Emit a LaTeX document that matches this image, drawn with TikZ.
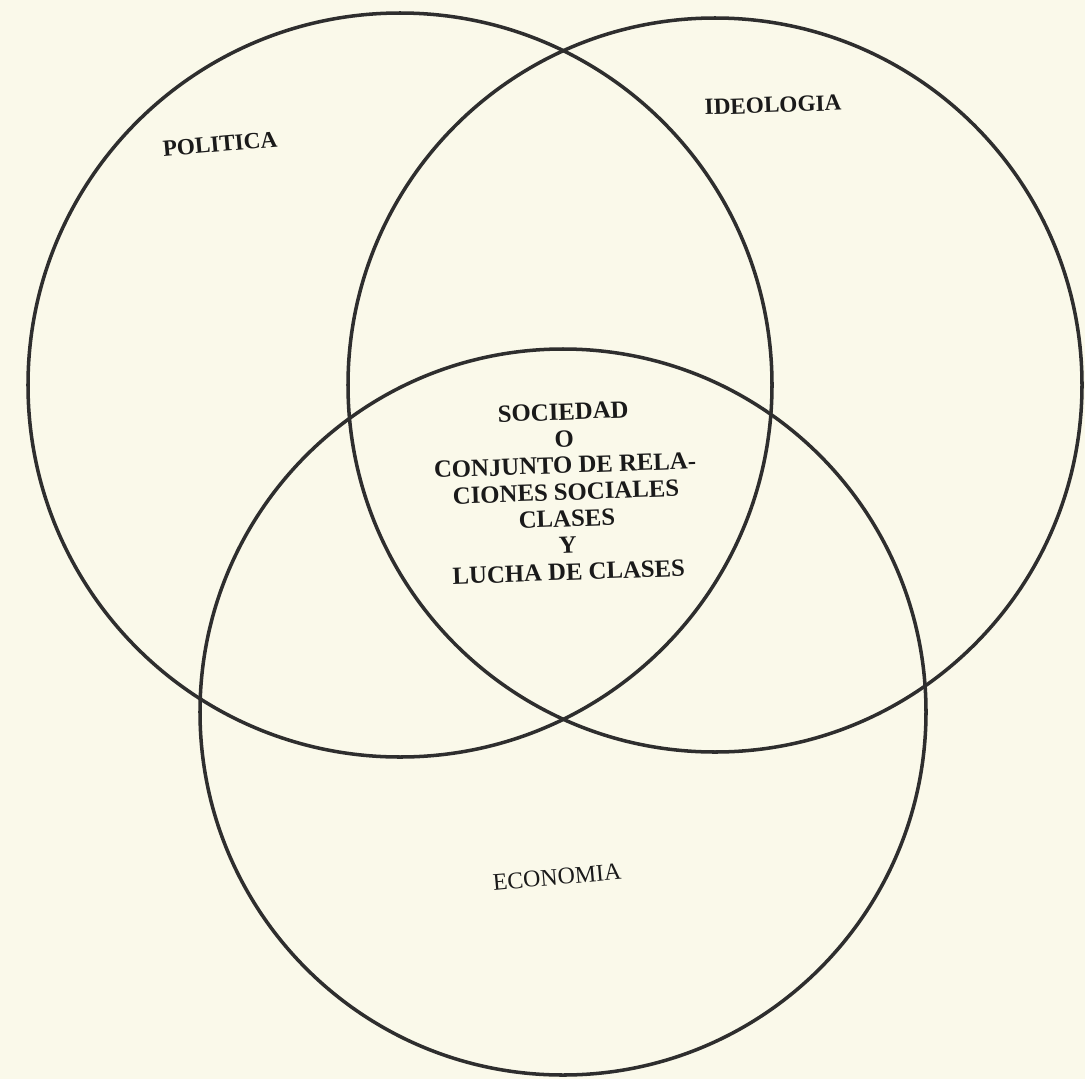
\documentclass[tikz,border=0pt]{standalone}
\usepackage{fontspec}
\setmainfont{Liberation Serif}
\usepackage{xcolor}
\usepackage{tikz}
\definecolor{paper}{HTML}{FAF9EA}
\definecolor{ink}{HTML}{2E2E2E}
\definecolor{type}{HTML}{1A1A1A}
\begin{document}
\begin{tikzpicture}[x=0.025cm, y=-0.025cm,
  ring/.style={draw=ink, line width=2.5pt},
  area/.style={text=type, font=\bfseries\fontsize{16.5}{18}\selectfont, inner sep=0pt}]
  \fill[paper] (0,0) rectangle (1085,1079);
  \useasboundingbox (0,0) rectangle (1085,1079);
  \coordinate (pol) at (400,385);
  \coordinate (ide) at (715,385);
  \coordinate (eco) at (563,712);
  \draw[ring] (pol) circle (372);
  \draw[ring] (ide) circle (367);
  \draw[ring] (eco) circle (363);
  \node[area, rotate=5] (lpol) at (220,144) {POLITICA};
  \node[area, rotate=2] (lide) at (773,105) {IDEOLOGIA};
  \node[area, font=\fontsize{17}{18}\selectfont, rotate=5] (leco) at (557,877) {ECONOMIA};
  \node[area, align=center, rotate=2, font=\bfseries\fontsize{17.6}{19}\selectfont] (lsoc) at (566,492)
    {SOCIEDAD\\O\\CONJUNTO DE RELA-\\CIONES SOCIALES\\CLASES\\Y\\LUCHA DE CLASES};
\end{tikzpicture}
\end{document}
